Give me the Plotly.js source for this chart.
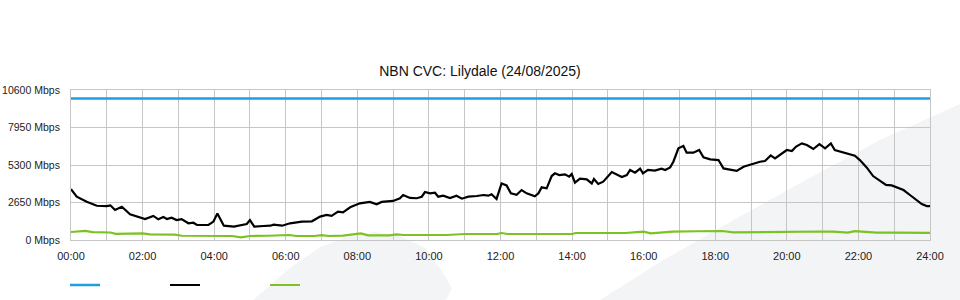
<!DOCTYPE html>
<html>
<head>
<meta charset="utf-8">
<script src="https://cdn.plot.ly/plotly-3.0.1.min.js"></script>
<style>html,body{margin:0;padding:0;background:#fff;}#chart{width:960px;height:300px;}</style>
</head>
<body>
<div id="chart"></div>
<script>
// ---- data (hours since midnight, Mbps) ----
const titleText = "NBN CVC: Lilydale (24/08/2025)";

const capacityT = [0, 24];
const capacityV = [10000, 10000];

const downT = [0, 0.16, 0.44, 0.72, 1.0, 1.1, 1.23, 1.42, 1.65, 1.93, 2.07, 2.3, 2.44, 2.58, 2.68, 2.81, 2.95, 3.09,
  3.28, 3.42, 3.52, 3.84, 3.98, 4.09, 4.21, 4.27, 4.55, 4.74, 4.91, 5.0, 5.12, 5.38, 5.57, 5.66, 5.9, 6.12, 6.36,
  6.45, 6.73, 6.96, 7.14, 7.28, 7.46, 7.6, 7.8, 7.93, 8.07, 8.35, 8.54, 8.68, 8.87, 9.0, 9.19, 9.28, 9.47, 9.66,
  9.8, 9.89, 10.03, 10.17, 10.26, 10.4, 10.59, 10.77, 10.92, 11.1, 11.34, 11.52, 11.66, 11.75, 11.89, 12.03,
  12.17, 12.29, 12.45, 12.59, 12.73, 12.96, 13.06, 13.15, 13.29, 13.43, 13.52, 13.64, 13.8, 13.92, 13.99, 14.08,
  14.22, 14.41, 14.55, 14.61, 14.73, 14.87, 15.11, 15.25, 15.39, 15.53, 15.62, 15.76, 15.9, 15.98, 16.12, 16.31,
  16.5, 16.6, 16.74, 16.83, 16.97, 17.11, 17.2, 17.39, 17.55, 17.67, 17.86, 18.09, 18.23, 18.37, 18.6, 18.79,
  19.02, 19.25, 19.39, 19.55, 19.67, 19.81, 20.0, 20.14, 20.26, 20.42, 20.56, 20.74, 20.91, 21.07, 21.23, 21.34,
  21.49, 21.67, 21.9, 22.04, 22.23, 22.41, 22.6, 22.77, 22.93, 23.12, 23.26, 23.44, 23.63, 23.77, 23.91, 24.0];
const downV = [3600, 3060, 2710, 2420, 2400, 2450, 2120, 2350, 1810, 1580, 1480, 1700, 1460, 1620, 1480, 1580, 1410, 1480,
  1180, 1220, 1060, 1060, 1300, 1880, 1300, 1010, 940, 1040, 1130, 1410, 940, 990, 1010, 1080, 1010, 1180, 1250,
  1300, 1320, 1650, 1770, 1700, 2000, 1950, 2310, 2420, 2590, 2690, 2520, 2690, 2760, 2760, 2950, 3180, 2970, 2950,
  3060, 3390, 3300, 3340, 3060, 3130, 2970, 3130, 2920, 3060, 3110, 3180, 3130, 3230, 2900, 4000,
  3860, 3300, 3200, 3530, 3300, 3090, 3300, 3720, 3650, 4520, 4710, 4590, 4640, 4480, 4660, 4050,
  4330, 4290, 4000, 4310, 3960, 4120, 4800, 4640, 4450, 4590, 4950, 4760, 5050, 4710, 4950, 4900,
  5040, 4950, 5130, 5530, 6480, 6640, 6170, 6170, 6360, 5840, 5700, 5650, 5060, 4990, 4880, 5180,
  5370, 5530, 5580, 5980, 5770, 6010, 6360, 6290, 6600, 6830, 6710, 6430, 6780, 6480, 6830, 6360,
  6240, 6120, 5960, 5650, 5130, 4520, 4190, 3890, 3860, 3650, 3530, 3180, 2830, 2540, 2400, 2400];

const upT = [0, 0.2, 0.4, 0.6, 0.8, 1.1, 1.25, 1.5, 1.7, 2.0, 2.2, 2.6, 2.9, 3.1, 3.5, 4.0, 4.5, 4.75, 5.0, 5.5, 5.8,
  6.1, 6.3, 6.8, 7.0, 7.2, 7.6, 8.0, 8.1, 8.3, 8.9, 9.1, 9.3, 10.0, 10.5, 11.0, 11.9, 12.03, 12.2, 13.0, 14.0,
  14.1, 15.0, 15.5, 15.8, 16.0, 16.2, 16.8, 17.5, 18.2, 18.5, 19.0, 19.3, 20.0, 20.7, 21.0, 21.3, 21.7, 21.9,
  22.2, 22.5, 23.0, 23.4, 23.8, 24.0];
const upV = [565, 620, 650, 560, 540, 530, 430, 430, 470, 470, 400, 400, 380, 300, 283, 283, 283, 190, 283, 300, 353,
  353, 283, 283, 340, 283, 306, 440, 471, 330, 330, 400, 353, 353, 353, 424, 424, 494, 424, 424, 424,
  494, 494, 494, 560, 589, 471, 589, 620, 636, 542, 560, 589, 610, 636, 600, 589, 518, 620,
  560, 518, 518, 500, 471, 500];

const hourTicks = [0, 2, 4, 6, 8, 10, 12, 14, 16, 18, 20, 22, 24];
const hourLabels = ["00:00", "02:00", "04:00", "06:00", "08:00", "10:00", "12:00", "14:00", "16:00", "18:00", "20:00", "22:00", "24:00"];
const yTicks = [0, 2650, 5300, 7950, 10600];
const yLabels = ["0 Mbps", "2650 Mbps", "5300 Mbps", "7950 Mbps", "10600 Mbps"];

// ---- style ----
const GRID = "#c6c6c6";
const WM = "#f3f4f6";
const W = 960, H = 300, L = 71, R = 30, T = 90, B = 60;
const pw = W - L - R, ph = H - T - B;
function px(x) { return (x - L) / pw; }
function py(y) { return (H - B - y) / ph; }
function pathFrom(pts) {
  return "M" + pts.map(p => px(p[0]).toFixed(4) + "," + py(p[1]).toFixed(4)).join(" L") + " Z";
}

const traces = [
  {x: capacityT, y: capacityV, type: "scatter", mode: "lines", name: "", line: {color: "#1e9fe0", width: 2.5}, hoverinfo: "skip"},
  {x: downT, y: downV, type: "scatter", mode: "lines", name: "", line: {color: "#000000", width: 2.2}, hoverinfo: "skip"},
  {x: upT, y: upV, type: "scatter", mode: "lines", name: "", line: {color: "#7cc223", width: 2.2}, hoverinfo: "skip"}
];

const layout = {
  width: W, height: H,
  margin: {l: L, r: R, t: T, b: B, pad: 0, autoexpand: false},
  paper_bgcolor: "#ffffff",
  plot_bgcolor: "rgba(0,0,0,0)",
  font: {family: "Liberation Sans, Arial, sans-serif", size: 10.5, color: "#222"},
  title: {text: titleText, font: {size: 14, color: "#111"}, x: 0.5, xref: "container", xanchor: "center", y: 1 - 71 / H, yref: "container", yanchor: "middle"},
  showlegend: true,
  legend: {orientation: "h", x: px(65), xanchor: "left", y: py(285), yanchor: "middle", entrywidth: 55, entrywidthmode: "pixels", itemwidth: 30, bgcolor: "rgba(0,0,0,0)", font: {size: 11}},
  xaxis: {
    range: [0, 24], tickmode: "array", tickvals: hourTicks, ticktext: hourLabels,
    showgrid: true, gridcolor: GRID, gridwidth: 1, zeroline: false,
    showline: true, linecolor: GRID, linewidth: 1, mirror: true,
    ticks: "", ticklabelstandoff: 6, fixedrange: true, tickfont: {size: 11},
    minor: {tickmode: "linear", tick0: 0, dtick: 1, showgrid: true, gridcolor: GRID, gridwidth: 1}
  },
  yaxis: {
    range: [0, 10600], tickmode: "array", tickvals: yTicks, ticktext: yLabels,
    showgrid: true, gridcolor: GRID, gridwidth: 1, zeroline: false,
    showline: true, linecolor: GRID, linewidth: 1, mirror: true,
    ticks: "", ticklabelstandoff: 8, fixedrange: true
  },
  shapes: [
    {type: "path", xref: "paper", yref: "paper", layer: "below", line: {width: 0}, fillcolor: WM,
     path: pathFrom([[600, 300], [660, 262], [730, 222], [806, 180], [880, 140], [960, 104], [960, 300]])},
    {type: "path", xref: "paper", yref: "paper", layer: "below", line: {width: 0}, fillcolor: WM,
     path: pathFrom([[253, 300], [290, 268], [320, 247], [350, 236], [375, 232], [400, 236], [425, 248], [440, 268], [452, 288], [446, 300]])}
  ]
};

Plotly.newPlot("chart", traces, layout, {displayModeBar: false, staticPlot: true});
</script>
</body>
</html>
